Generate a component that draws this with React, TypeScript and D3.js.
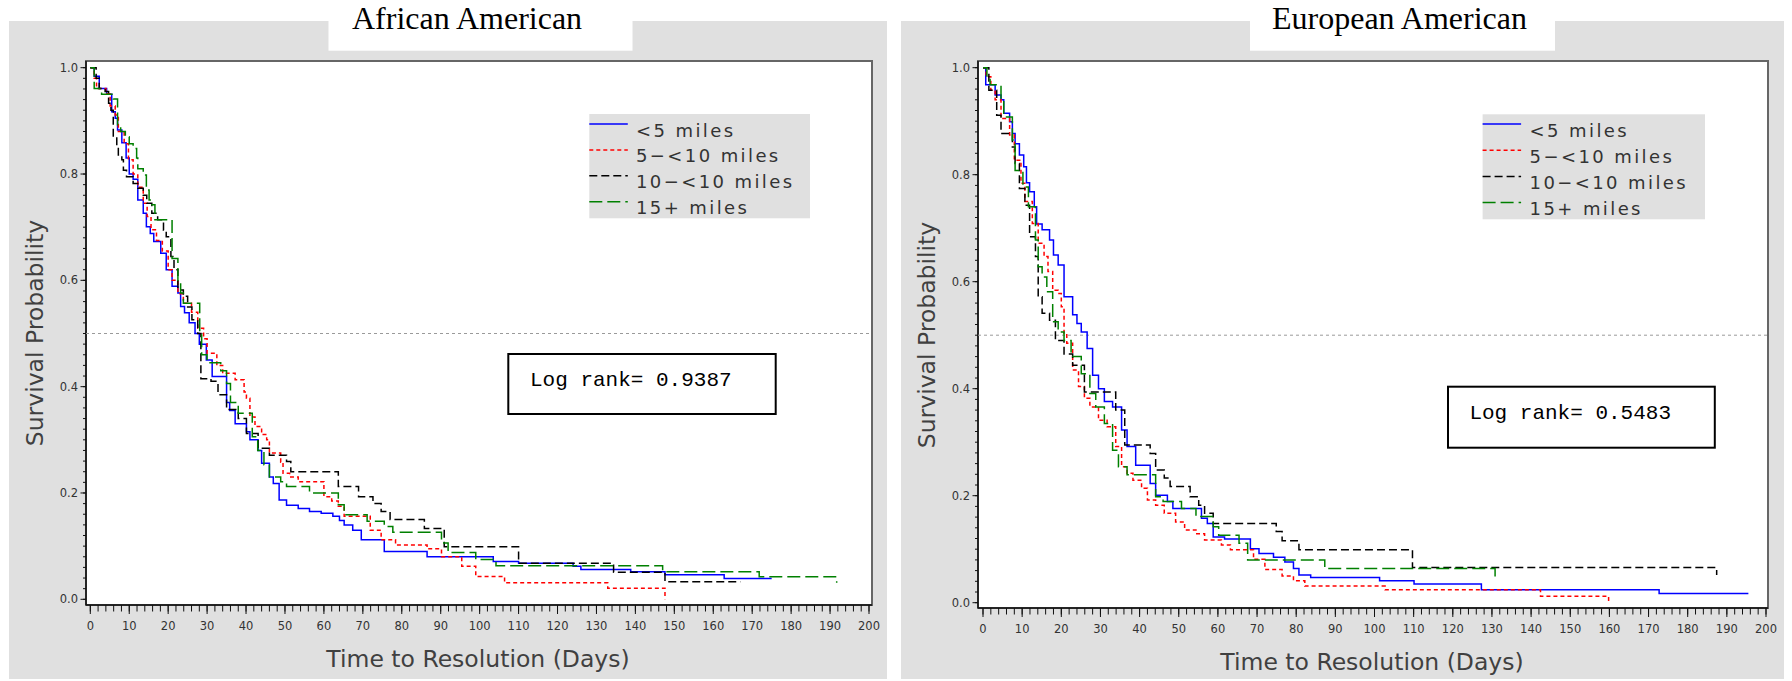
import React from 'react';
import * as d3 from 'd3';

type Pt = [number, number];

// ---------- data ----------
const seriesNames = ['<5 miles', '5\u2212<10 miles', '10\u2212<10 miles', '15+ miles'];
const seriesColors = ['#0000ff', '#ff0000', '#000000', '#008000'];
const seriesDash: (string | null)[] = [null, '4,3', '8,4', '13,5'];

const panelTitles = ['African American', 'European American'];
const logRankValues = ['0.9387', '0.5483'];

const xMajorTicks = d3.range(0, 201, 10);
const xMinorTicks = d3.range(0, 201, 2);
const yMajorTicks = [0, 0.2, 0.4, 0.6, 0.8, 1.0];
const yMinorTicks = d3.range(0, 51).map((i) => i * 0.02);

const leftBlue: Pt[] = [
  [0, 1], [1, 0.984], [2.3, 0.961], [4.2, 0.95], [5.5, 0.917], [6.4, 0.905], [7, 0.883], [8.1, 0.859],
  [9.2, 0.83], [10, 0.8], [11, 0.79], [12.2, 0.751], [13.6, 0.726], [14.4, 0.701], [15.4, 0.688],
  [16.3, 0.673], [18.1, 0.651], [19.5, 0.62], [21, 0.589], [22.5, 0.576], [23.2, 0.551], [24.2, 0.539],
  [25.4, 0.52], [26.9, 0.5], [28, 0.48], [29.8, 0.45], [31.3, 0.419], [35, 0.37], [35.8, 0.355],
  [37.2, 0.33], [40.1, 0.315], [41, 0.3], [43.1, 0.28], [44, 0.256], [46, 0.23], [47, 0.218],
  [48.5, 0.187], [50.4, 0.177], [53.4, 0.171], [56.3, 0.165], [59.3, 0.162], [62.3, 0.156], [64, 0.148],
  [65.2, 0.14], [67.4, 0.13], [69.6, 0.112], [75.5, 0.09], [86.5, 0.08], [103.5, 0.071], [110, 0.068],
  [124, 0.062], [126, 0.056], [138.8, 0.052], [147.6, 0.046], [162.8, 0.039], [175, 0.039],
];
const leftRed: Pt[] = [
  [0, 1], [1, 0.98], [1.6, 0.961], [4, 0.951], [5.1, 0.928], [6.4, 0.911], [7.2, 0.88], [8.7, 0.857],
  [9.8, 0.827], [11, 0.8], [12.2, 0.775], [13.6, 0.745], [14.6, 0.72], [15.6, 0.695], [17, 0.675],
  [18.5, 0.655], [20, 0.62], [21, 0.6], [22.5, 0.575], [23.9, 0.557], [26, 0.54], [27.6, 0.51],
  [29.1, 0.49], [30, 0.463], [32.5, 0.44], [34, 0.425], [37.2, 0.413], [39.5, 0.39], [40.1, 0.378],
  [41, 0.343], [42.3, 0.325], [44, 0.31], [45.3, 0.3], [46, 0.275], [48.9, 0.258], [49.5, 0.237],
  [51.2, 0.23], [53.4, 0.221], [60, 0.193], [62, 0.185], [63.7, 0.175], [65.2, 0.156], [71.9, 0.13],
  [74.7, 0.112], [78.4, 0.102], [86.5, 0.095], [90.2, 0.08], [95.4, 0.062], [99, 0.043], [106.4, 0.031],
  [132.9, 0.021], [147.6, 0.0],
];
const leftBlack: Pt[] = [
  [0, 1], [1.5, 0.98], [2.3, 0.961], [3.8, 0.955], [4.7, 0.933], [5.3, 0.92], [5.9, 0.87], [6.8, 0.851],
  [7.2, 0.836], [8.1, 0.827], [8.5, 0.807], [9.3, 0.795], [11, 0.782], [12.2, 0.773], [13.6, 0.76],
  [14.5, 0.745], [15.8, 0.726], [17.3, 0.714], [18.8, 0.694], [19.5, 0.682], [20.7, 0.645], [21.5, 0.62],
  [22.5, 0.582], [23.9, 0.57], [25, 0.55], [26.1, 0.526], [27.6, 0.5], [28.4, 0.415], [31, 0.41],
  [32.8, 0.385], [35, 0.357], [38, 0.34], [40.1, 0.312], [43.1, 0.284], [46, 0.271], [50.4, 0.259],
  [51.5, 0.24], [63.7, 0.212], [68.9, 0.193], [72.6, 0.18], [74.7, 0.165], [77, 0.15], [85.8, 0.133],
  [90.9, 0.099], [110, 0.068], [134.4, 0.051], [147.6, 0.033], [167, 0.033],
];
const leftGreen: Pt[] = [
  [0, 1], [1, 0.961], [2.9, 0.95], [5.9, 0.941], [7, 0.89], [7.8, 0.88], [9, 0.87], [10, 0.857],
  [11, 0.848], [11.9, 0.83], [12.2, 0.81], [13.6, 0.798], [14.4, 0.77], [15.1, 0.751], [15.8, 0.742],
  [16.6, 0.714], [21, 0.641], [22.5, 0.597], [23.2, 0.576], [23.9, 0.557], [28.1, 0.5], [28.6, 0.46],
  [30, 0.445], [33.5, 0.43], [35, 0.406], [36, 0.37], [38, 0.35], [41.6, 0.306], [43, 0.28],
  [44.6, 0.253], [46, 0.23], [48.9, 0.221], [50.4, 0.212], [56.3, 0.2], [63.7, 0.178], [65.2, 0.159],
  [71.1, 0.147], [75.5, 0.137], [77.7, 0.126], [90.2, 0.106], [91.9, 0.088], [99, 0.075], [104.2, 0.063],
  [147, 0.052], [171.8, 0.0425], [191.7, 0.031],
];

const rightBlue: Pt[] = [
  [0, 1], [0.7, 0.968], [3.1, 0.949], [4.6, 0.94], [5.3, 0.915], [6.8, 0.899], [7.5, 0.877], [8.2, 0.858],
  [9.3, 0.837], [10.4, 0.815], [11.1, 0.785], [11.9, 0.768], [13.1, 0.74], [13.7, 0.708], [15.1, 0.697],
  [17, 0.678], [18, 0.65], [19.2, 0.631], [20.7, 0.572], [22.9, 0.538], [24, 0.522], [25.1, 0.506],
  [26.6, 0.475], [28, 0.425], [29.5, 0.4], [31, 0.376], [33.1, 0.366], [35.4, 0.323], [36.8, 0.292],
  [39, 0.257], [42.7, 0.223], [44.1, 0.201], [47.1, 0.189], [48.5, 0.176], [55.8, 0.158], [57.3, 0.148],
  [58.8, 0.123], [61.7, 0.119], [68.3, 0.101], [70.5, 0.092], [74.2, 0.085], [77.1, 0.076], [79.3, 0.064],
  [80.7, 0.052], [83.7, 0.047], [101.3, 0.041], [110.1, 0.035], [127.3, 0.024], [172.7, 0.017],
  [195.5, 0.017],
];
const rightRed: Pt[] = [
  [0, 1], [0.8, 0.983], [2, 0.958], [3.1, 0.94], [4.6, 0.905], [6.8, 0.874], [8, 0.827], [9.7, 0.784],
  [10.7, 0.75], [12.6, 0.709], [14.1, 0.672], [15.6, 0.647], [16.6, 0.619], [17.8, 0.584], [19.2, 0.578],
  [20, 0.553], [20.7, 0.503], [21.4, 0.485], [22.9, 0.435], [24.4, 0.404], [25.9, 0.382], [27.3, 0.366],
  [29.5, 0.341], [31.7, 0.329], [33.9, 0.292], [35.4, 0.254], [36.8, 0.242], [38.3, 0.229], [40.5, 0.214],
  [42, 0.192], [44.1, 0.182], [46.3, 0.167], [49.2, 0.151], [51.5, 0.136], [54.4, 0.129], [56.6, 0.117],
  [60.9, 0.108], [63.2, 0.099], [69.1, 0.081], [72, 0.062], [76.4, 0.05], [79.3, 0.041], [82.2, 0.031],
  [102.7, 0.024], [142.4, 0.012], [159.8, 0.0],
];
const rightBlack: Pt[] = [
  [0, 1], [1.5, 0.958], [3.5, 0.911], [4.6, 0.877], [7.5, 0.852], [8.2, 0.821], [9.3, 0.774], [10.7, 0.743],
  [11.9, 0.684], [13.4, 0.647], [14.1, 0.572], [15.1, 0.541], [17, 0.528], [18.5, 0.49], [20.7, 0.465],
  [22.9, 0.444], [25.9, 0.394], [33.9, 0.36], [36.2, 0.295], [42.7, 0.279], [44.1, 0.248], [46.3, 0.233],
  [47.8, 0.217], [52.9, 0.198], [55.1, 0.182], [56.6, 0.167], [58.8, 0.148], [74.9, 0.133], [76.4, 0.116],
  [80.7, 0.099], [109.7, 0.066], [187.4, 0.052],
];
const rightGreen: Pt[] = [
  [0, 1], [1, 0.983], [1.8, 0.968], [4.6, 0.94], [5.3, 0.908], [7.5, 0.865], [8.2, 0.808], [10.2, 0.777],
  [11.6, 0.74], [13.4, 0.678], [14.1, 0.628], [15.1, 0.609], [16.3, 0.581], [17.8, 0.525], [19.2, 0.506],
  [20.7, 0.49], [22.5, 0.46], [25.1, 0.428], [27.3, 0.391], [28.8, 0.366], [31, 0.335], [33.1, 0.285],
  [34.6, 0.254], [36.8, 0.239], [44.1, 0.198], [46, 0.189], [50.7, 0.176], [54.4, 0.161], [58.8, 0.142],
  [60.2, 0.126], [65.4, 0.111], [67.6, 0.08], [87.3, 0.064], [130.8, 0.042],
];

const leftSeries = [leftBlue, leftRed, leftBlack, leftGreen];
const rightSeries = [rightBlue, rightRed, rightBlack, rightGreen];

// ---------- layout ----------
interface Layout {
  bg: [number, number, number, number];
  titleBox: [number, number, number, number];
  titleX: number;
  frame: { l: number; r: number; t: number; b: number };
  xRange: [number, number];
  yRange: [number, number];
  legend: { x: number; y: number; w: number; h: number; line0: number; step: number; textX: number };
  logBox: { x: number; y: number; w: number; h: number; tx: number; ty: number };
  xLabel: { x: number; y: number };
  yLabel: { x: number; y: number };
  tickLabelY: number;
}

const layouts: Layout[] = [
  {
    bg: [9, 21, 887, 679],
    titleBox: [328.5, 0, 632.5, 50.7],
    titleX: 352,
    frame: { l: 86, r: 872, t: 61, b: 605 },
    xRange: [90.3, 869],
    yRange: [599.3, 67.7],
    legend: { x: 589.3, y: 114, w: 220.7, h: 104.3, line0: 124, step: 25.9, textX: 636 },
    logBox: { x: 508.3, y: 354, w: 267.4, h: 60, tx: 530, ty: 386 },
    xLabel: { x: 478, y: 667 },
    yLabel: { x: 43, y: 333 },
    tickLabelY: 630,
  },
  {
    bg: [901, 21, 1784, 679],
    titleBox: [1250, 0, 1555, 50.7],
    titleX: 1272,
    frame: { l: 978, r: 1768, t: 61, b: 608 },
    xRange: [983, 1766],
    yRange: [602.7, 67.7],
    legend: { x: 1482.6, y: 114.3, w: 222.4, h: 105, line0: 124, step: 26.2, textX: 1529.6 },
    logBox: { x: 1448, y: 386.7, w: 266.8, h: 61, tx: 1469.4, ty: 419 },
    xLabel: { x: 1372, y: 670 },
    yLabel: { x: 935, y: 335 },
    tickLabelY: 633,
  },
];

const sans = '"DejaVu Sans", sans-serif';

function Panel({ L, series, title, logRank }: { L: Layout; series: Pt[][]; title: string; logRank: string }) {
  const xs = d3.scaleLinear().domain([0, 200]).range(L.xRange);
  const ys = d3.scaleLinear().domain([0, 1]).range(L.yRange);
  const line = d3
    .line<Pt>()
    .x((d) => xs(d[0]))
    .y((d) => ys(d[1]))
    .curve(d3.curveStepAfter);
  const f = L.frame;
  return (
    <g>
      <rect x={L.bg[0]} y={L.bg[1]} width={L.bg[2] - L.bg[0]} height={L.bg[3] - L.bg[1]} fill="#e0e0e0" />
      <rect
        x={L.titleBox[0]}
        y={L.titleBox[1]}
        width={L.titleBox[2] - L.titleBox[0]}
        height={L.titleBox[3] - L.titleBox[1]}
        fill="#ffffff"
      />
      <text x={L.titleX} y={29} fontFamily='"Liberation Serif", "Times New Roman", serif' fontSize={32} fill="#000">
        {title}
      </text>
      {/* plot area */}
      <rect x={f.l} y={f.t} width={f.r - f.l} height={f.b - f.t} fill="#ffffff" stroke="#666" strokeWidth={2} />
      <line x1={f.l} x2={f.l} y1={f.t} y2={f.b} stroke="#111" strokeWidth={1.5} />
      <line x1={f.l} x2={f.r} y1={f.b} y2={f.b} stroke="#111" strokeWidth={1.5} />
      {/* y ticks */}
      {yMinorTicks.map((v, i) => (
        <line key={'ym' + i} x1={f.l - 3} x2={f.l} y1={ys(v)} y2={ys(v)} stroke="#111" strokeWidth={1} />
      ))}
      {yMajorTicks.map((v, i) => (
        <g key={'yM' + i}>
          <line x1={f.l - 5.5} x2={f.l} y1={ys(v)} y2={ys(v)} stroke="#111" strokeWidth={1} />
          <text x={f.l - 8} y={ys(v) + 4} textAnchor="end" fontFamily={sans} fontSize={11.5} fill="#333">
            {v.toFixed(1)}
          </text>
        </g>
      ))}
      {/* x ticks */}
      {xMinorTicks.map((v, i) => (
        <line key={'xm' + i} x1={xs(v)} x2={xs(v)} y1={f.b} y2={f.b + 6.5} stroke="#111" strokeWidth={1} />
      ))}
      {xMajorTicks.map((v, i) => (
        <g key={'xM' + i}>
          <line x1={xs(v)} x2={xs(v)} y1={f.b} y2={f.b + 9} stroke="#111" strokeWidth={1} />
          <text x={xs(v)} y={L.tickLabelY} textAnchor="middle" fontFamily={sans} fontSize={11.5} fill="#333">
            {v}
          </text>
        </g>
      ))}
      {/* median reference line */}
      <line x1={f.l} x2={f.r} y1={ys(0.5)} y2={ys(0.5)} stroke="#9a9a9a" strokeWidth={1} strokeDasharray="3,3" />
      {/* curves */}
      {series.map((s, i) => (
        <path
          key={'c' + i}
          d={line(s) || ''}
          fill="none"
          stroke={seriesColors[i]}
          strokeWidth={1.5}
          strokeDasharray={seriesDash[i] || undefined}
        />
      ))}
      {/* legend */}
      <rect x={L.legend.x} y={L.legend.y} width={L.legend.w} height={L.legend.h} fill="#e0e0e0" />
      {seriesNames.map((n, i) => {
        const ly = L.legend.line0 + i * L.legend.step;
        return (
          <g key={'lg' + i}>
            <line
              x1={L.legend.x}
              x2={L.legend.x + 38.5}
              y1={ly}
              y2={ly}
              stroke={seriesColors[i]}
              strokeWidth={1.5}
              strokeDasharray={seriesDash[i] || undefined}
            />
            <text x={L.legend.textX} y={ly + 12.5} fontFamily={sans} fontSize={18} letterSpacing={2.4} fill="#333">
              {n}
            </text>
          </g>
        );
      })}
      {/* log rank box */}
      <rect
        x={L.logBox.x}
        y={L.logBox.y}
        width={L.logBox.w}
        height={L.logBox.h}
        fill="#ffffff"
        stroke="#000"
        strokeWidth={2}
      />
      <text x={L.logBox.tx} y={L.logBox.ty} fontFamily='"Liberation Mono", "DejaVu Sans Mono", monospace' fontSize={21} fill="#000">
        {'Log rank= ' + logRank}
      </text>
      {/* axis labels */}
      <text x={L.xLabel.x} y={L.xLabel.y} textAnchor="middle" fontFamily={sans} fontSize={23.5} fill="#404040">
        Time to Resolution (Days)
      </text>
      <text
        transform={`translate(${L.yLabel.x},${L.yLabel.y}) rotate(-90)`}
        textAnchor="middle"
        fontFamily={sans}
        fontSize={23.5}
        fill="#404040"
      >
        Survival Probability
      </text>
    </g>
  );
}

export default function App() {
  return (
    <svg
      width={1792}
      height={681}
      style={{ position: 'absolute', left: 0, top: 0, display: 'block', background: '#fff' }}
    >
      <rect x={0} y={0} width={1792} height={681} fill="#ffffff" />
      <Panel L={layouts[0]} series={leftSeries} title={panelTitles[0]} logRank={logRankValues[0]} />
      <Panel L={layouts[1]} series={rightSeries} title={panelTitles[1]} logRank={logRankValues[1]} />
    </svg>
  );
}
